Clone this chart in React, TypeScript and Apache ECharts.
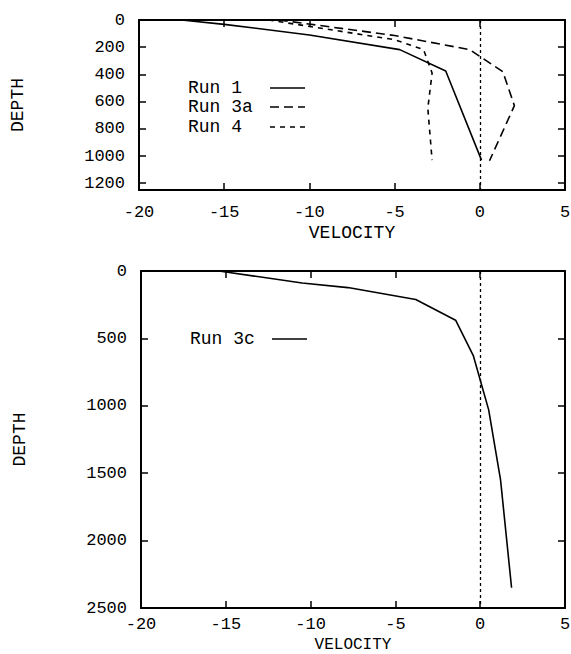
import React, { useEffect, useRef } from "react";
import * as echarts from "echarts";

// ---- Data (velocity, depth) ----
const run1Velocity = [-17.5, -15, -10, -4.7, -2.0, 0.1];
const run1Depth = [0, 32, 110, 218, 375, 1030];

const run3aVelocity = [-11.8, -5, -0.6, 1.35, 2.03, 0.57];
const run3aDepth = [0, 114, 218, 380, 630, 1035];

const run4Velocity = [-12.4, -5, -3.3, -2.8, -3.05, -2.8];
const run4Depth = [0, 145, 218, 390, 650, 1030];

const run3cVelocity = [-15.4, -10.5, -7.8, -3.8, -1.45, -0.4, 0.5, 1.2, 1.85];
const run3cDepth = [0, 89, 123, 212, 365, 630, 1030, 1550, 2350];

const topNames = ["Run 1", "Run 3a", "Run 4"];
const bottomNames = ["Run 3c"];

const xTicks = { min: -20, max: 5, interval: 5 };
const yTopTicks = { min: 0, max: 1250, interval: 200 };
const yBottomTicks = { min: 0, max: 2500, interval: 500 };

const FONT = "'Liberation Mono', 'DejaVu Sans Mono', monospace";

const pair = (xs: number[], ys: number[]) => xs.map((x, i) => [x, ys[i]]);

export default function App() {
  const ref = useRef<HTMLDivElement>(null);

  useEffect(() => {
    document.body.style.margin = "0";
    if (!ref.current) return;
    const chart = echarts.init(ref.current, null, { renderer: "svg" });

    const tickLabel = {
      color: "#000",
      fontFamily: FONT,
      fontSize: 17,
      formatter: (v: number) => String(v),
    };
    const axisLine = { show: true, onZero: false, lineStyle: { color: "#000", width: 2 } };
    const axisTick = { show: true, inside: true, length: 7, lineStyle: { color: "#000", width: 1.5 } };

    const mkX = (
      gridIndex: number,
      position: "bottom" | "top",
      labels: boolean,
      gap: number,
      margin: number,
      nameSize: number,
      nameLH: number
    ) => ({
      type: "value",
      gridIndex,
      position,
      min: xTicks.min,
      max: xTicks.max,
      interval: xTicks.interval,
      axisLine,
      axisTick,
      splitLine: { show: false },
      axisLabel: labels ? { ...tickLabel, margin, lineHeight: 16 } : { show: false },
      name: labels ? "VELOCITY" : "",
      nameLocation: "middle",
      nameGap: gap,
      nameTextStyle: { color: "#000", fontFamily: FONT, fontSize: nameSize, lineHeight: nameLH },
    });

    const mkY = (
      gridIndex: number,
      position: "left" | "right",
      labels: boolean,
      t: { min: number; max: number; interval: number }
    ) => ({
      type: "value",
      gridIndex,
      position,
      inverse: true,
      min: t.min,
      max: t.max,
      interval: t.interval,
      axisLine,
      axisTick,
      splitLine: { show: false },
      axisLabel: labels
        ? { ...tickLabel, margin: 14, showMaxLabel: t.max % t.interval === 0 }
        : { show: false },
      name: labels ? "DEPTH" : "",
      nameLocation: "middle",
      nameRotate: 90,
      nameGap: 112,
      nameTextStyle: { color: "#000", fontFamily: FONT, fontSize: 18 },
    });

    const zeroLine = {
      silent: true,
      symbol: "none",
      label: { show: false },
      lineStyle: { color: "#000", type: [3, 3], width: 1.3 },
      data: [{ xAxis: 0 }],
    };

    const lineSeries = (
      name: string,
      data: number[][],
      xi: number,
      yi: number,
      dash: any,
      extra: any = {}
    ) => ({
      type: "line",
      name,
      data,
      xAxisIndex: xi,
      yAxisIndex: yi,
      symbol: "none",
      showSymbol: false,
      lineStyle: { color: "#000", width: 1.6, type: dash },
      ...extra,
    });

    const legendText = (text: string, x: number, y: number) => ({
      type: "text",
      x,
      y,
      style: {
        text,
        fill: "#000",
        font: `18px ${FONT}`,
        verticalAlign: "middle",
        align: "left",
      },
    });
    const legendLine = (x1: number, x2: number, y: number, dash: any) => ({
      type: "line",
      shape: { x1, y1: y, x2, y2: y },
      style: { stroke: "#000", lineWidth: 1.6, lineDash: dash },
    });

    chart.setOption({
      animation: false,
      backgroundColor: "#fff",
      grid: [
        { left: 139, top: 20, width: 426, height: 170, outerBoundsMode: "none" },
        { left: 141, top: 271, width: 424, height: 337, outerBoundsMode: "none" },
      ],
      xAxis: [
        mkX(0, "bottom", true, 34, 14, 18, 18),
        mkX(0, "top", false, 34, 14, 18, 18),
        mkX(1, "bottom", true, 24, 8, 16, 14),
        mkX(1, "top", false, 24, 8, 16, 14),
      ],
      yAxis: [
        mkY(0, "left", true, yTopTicks),
        mkY(0, "right", false, yTopTicks),
        mkY(1, "left", true, yBottomTicks),
        mkY(1, "right", false, yBottomTicks),
      ],
      series: [
        lineSeries(topNames[0], pair(run1Velocity, run1Depth), 0, 0, "solid", { markLine: zeroLine }),
        lineSeries(topNames[1], pair(run3aVelocity, run3aDepth), 0, 0, [9, 5]),
        lineSeries(topNames[2], pair(run4Velocity, run4Depth), 0, 0, [5, 5]),
        lineSeries(bottomNames[0], pair(run3cVelocity, run3cDepth), 2, 2, "solid", { markLine: zeroLine }),
      ],
      graphic: [
        legendText(topNames[0], 188, 88),
        legendLine(270, 305, 88, null),
        legendText(topNames[1], 188, 107),
        legendLine(270, 305, 107, [9, 5]),
        legendText(topNames[2], 188, 127),
        legendLine(270, 305, 127, [5, 5]),
        legendText(bottomNames[0], 190, 339),
        legendLine(272, 307, 339, null),
      ],
    });

    return () => chart.dispose();
  }, []);

  return <div ref={ref} style={{ width: 571, height: 654 }} />;
}
